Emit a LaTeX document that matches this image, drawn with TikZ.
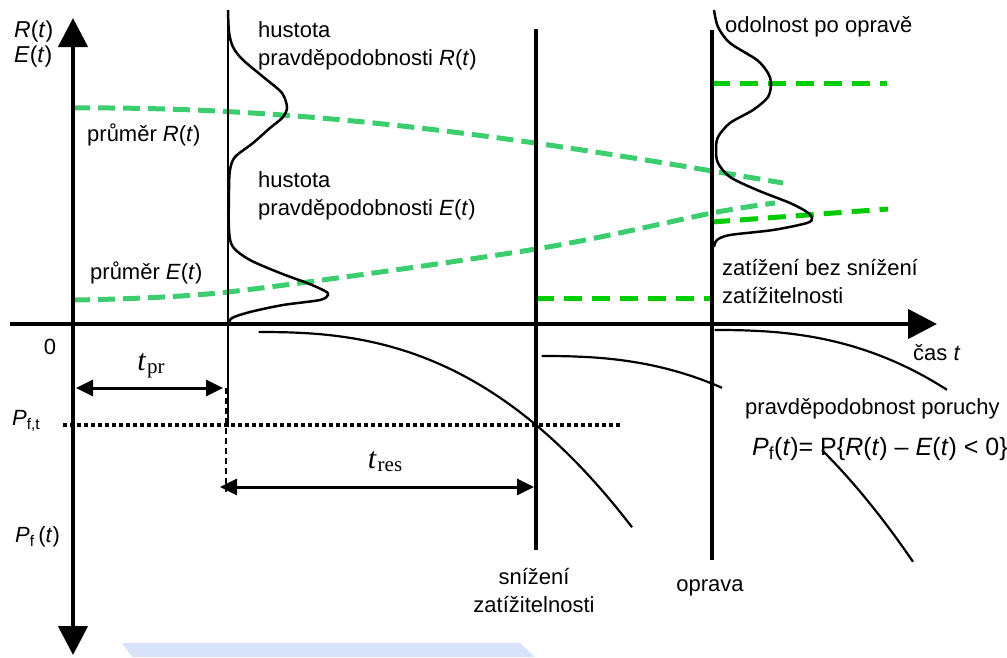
\documentclass[tikz,border=0pt]{standalone}
\usepackage{fontspec}
\setmainfont{Liberation Sans}
\newfontfamily\tnr{Liberation Serif}
\usetikzlibrary{arrows.meta}
\definecolor{lgreen}{RGB}{60,205,110}
\definecolor{bgreen}{RGB}{0,204,0}
\definecolor{barblue}{RGB}{216,226,250}
\newcommand\tsub[1]{{\tnr\fontsize{30}{30}\selectfont\textit{t}\kern1pt\raisebox{-3pt}{\fontsize{21}{21}\selectfont #1}}}
\begin{document}
\begin{tikzpicture}[x=1pt,y=-1pt,
  lbl/.style={inner sep=0pt, font=\fontsize{22}{28}\selectfont, align=left},
  axis/.style={line width=4.5pt, -{Triangle[length=29pt,width=29pt]}},
  dim/.style={line width=3pt, {Triangle[length=17pt,width=16pt]}-{Triangle[length=17pt,width=16pt]}},
  meanline/.style={lgreen, line width=5pt, dash pattern=on 17pt off 8pt},
  newmean/.style={bgreen, line width=5pt, dash pattern=on 18pt off 10pt},
  dens/.style={line width=2.5pt},
  pf/.style={line width=2.2pt},
  event/.style={line width=4pt}
]
\useasboundingbox (0,0) rectangle (1007,657);
% light blue bar at the bottom
\fill[barblue] (122,643) -- (520,643) -- (535,657) -- (132,657) -- cycle;

% coordinates
\coordinate (O) at (73,324);
\coordinate (xs) at (10,324);
\coordinate (xe) at (937,324);
\coordinate (yt) at (73,18);
\coordinate (yb) at (73,655);
\coordinate (L0t) at (228,10);
\coordinate (L0b) at (228,427);
\coordinate (S1t) at (536,29);
\coordinate (S1b) at (536,550);
\coordinate (S2t) at (712,30);
\coordinate (S2b) at (712,560);

% green mean lines
\draw[meanline] (73,108) .. controls (330,106) and (560,145) .. (783,183);
\draw[meanline] plot[smooth] coordinates {(73,300) (228,292) (536,249) (712,213) (775,203)};
\draw[newmean] (712,83) -- (887,83);
\draw[newmean] (712,222) -- (888,209);
\draw[newmean] (536,298) -- (712,298);

% thin vertical line at t_pr
\draw[line width=2pt] (L0t) -- (L0b);
% event lines
\draw[event] (S1t) -- (S1b);
\draw[event] (S2t) -- (S2b);

% density curves
\draw[dens] plot[smooth] coordinates {(228,10) (229,32) (233,47) (243,60) (267,80) (282,93) (287,107) (283,117) (270,128) (253,143) (235,157) (230,170) (229,190) (229,230) (233,247) (250,260) (280,273) (307,283) (325,291) (328,295) (320,300) (283,305) (250,312) (232,318) (229,324)};
\draw[dens] plot[smooth] coordinates {(714,10) (718,27) (730,43) (757,60) (768,73) (771,83) (768,97) (753,110) (730,123) (718,137) (716,150) (718,163) (730,177) (757,190) (790,203) (807,212) (812,218) (807,223) (773,230) (730,235) (717,240) (714,247)};

% failure probability curves
\draw[pf] plot[domain=0.5:374, samples=80, variable=\u] ({258+\u},{332+93*(\u/278)^2.5});
\draw[pf] plot[domain=0.5:181, samples=50, variable=\u] ({541+\u},{356+93*(\u/278)^2.5});
\draw[pf] plot[domain=0.5:233, samples=60, variable=\u] ({714+\u},{330+93*(\u/278)^2.5});
\draw[pf] plot[domain=313:404, samples=40, variable=\u] ({509+\u},{325+93*(\u/278)^2.5});

% P_f,t level and dashed drop line
\draw[line width=3.5pt, dash pattern=on 4pt off 3pt] (63,425) -- (620,425);
\draw[line width=2.5pt, dash pattern=on 6pt off 4pt] (226,388) -- (226,492);

% axes
\draw[axis] (xs) -- (xe);
\draw[axis] (O) -- (yt);
\draw[axis] (O) -- (yb);

% dimension arrows
\coordinate (tpra) at (76,388);
\coordinate (tprb) at (223,388);
\coordinate (tresa) at (220,487);
\coordinate (tresb) at (534,487);
\draw[dim] (tpra) -- (tprb);
\draw[dim] (tresa) -- (tresb);
\node[inner sep=0pt] (ltpr) at (151,366) {\tsub{pr}};
\node[inner sep=0pt] (ltres) at (385,462) {\tsub{res}};

% labels
\node[lbl, anchor=west, font=\fontsize{23}{28}\selectfont] (lR) at (14,32) {\textit{R}(\textit{t})};
\node[lbl, anchor=west, font=\fontsize{23}{28}\selectfont] (lE) at (14,57) {\textit{E}(\textit{t})};
\node[lbl, anchor=center] (l0) at (50,347) {0};
\node[lbl, anchor=west] (lPft) at (12,421) {\textit{P}\textsubscript{f,t}};
\node[lbl, anchor=west] (lPf) at (15,537) {\textit{P}\textsubscript{f}\,(\textit{t})};
\node[lbl, anchor=west] (lhR) at (258,46) {hustota\\pravděpodobnosti \textit{R}(\textit{t})};
\node[lbl, anchor=west] (lhE) at (258,196) {hustota\\pravděpodobnosti \textit{E}(\textit{t})};
\node[lbl, anchor=west] (lmR) at (87,135) {průměr \textit{R}(\textit{t})};
\node[lbl, anchor=west] (lmE) at (90,273) {průměr \textit{E}(\textit{t})};
\node[lbl, anchor=west] (lod) at (725,27) {odolnost po opravě};
\node[lbl, anchor=west] (lza) at (722,281) {zatížení bez snížení\\zatížitelnosti};
\node[lbl, anchor=west] (lcas) at (913,353) {čas \textit{t}};
\node[lbl, anchor=west] (lpp) at (745,409) {pravděpodobnost poruchy};
\node[lbl, anchor=west, font=\fontsize{25}{30}\selectfont] (lform) at (752,449) {\textit{P}\textsubscript{f}(\textit{t})= P\{\textit{R}(\textit{t}) \textendash{} \textit{E}(\textit{t}) < 0\}};
\node[lbl, anchor=center, align=center] (lsn) at (534,590) {snížení\\zatížitelnosti};
\node[lbl, anchor=center] (lop) at (710,588) {oprava};
\end{tikzpicture}
\end{document}
